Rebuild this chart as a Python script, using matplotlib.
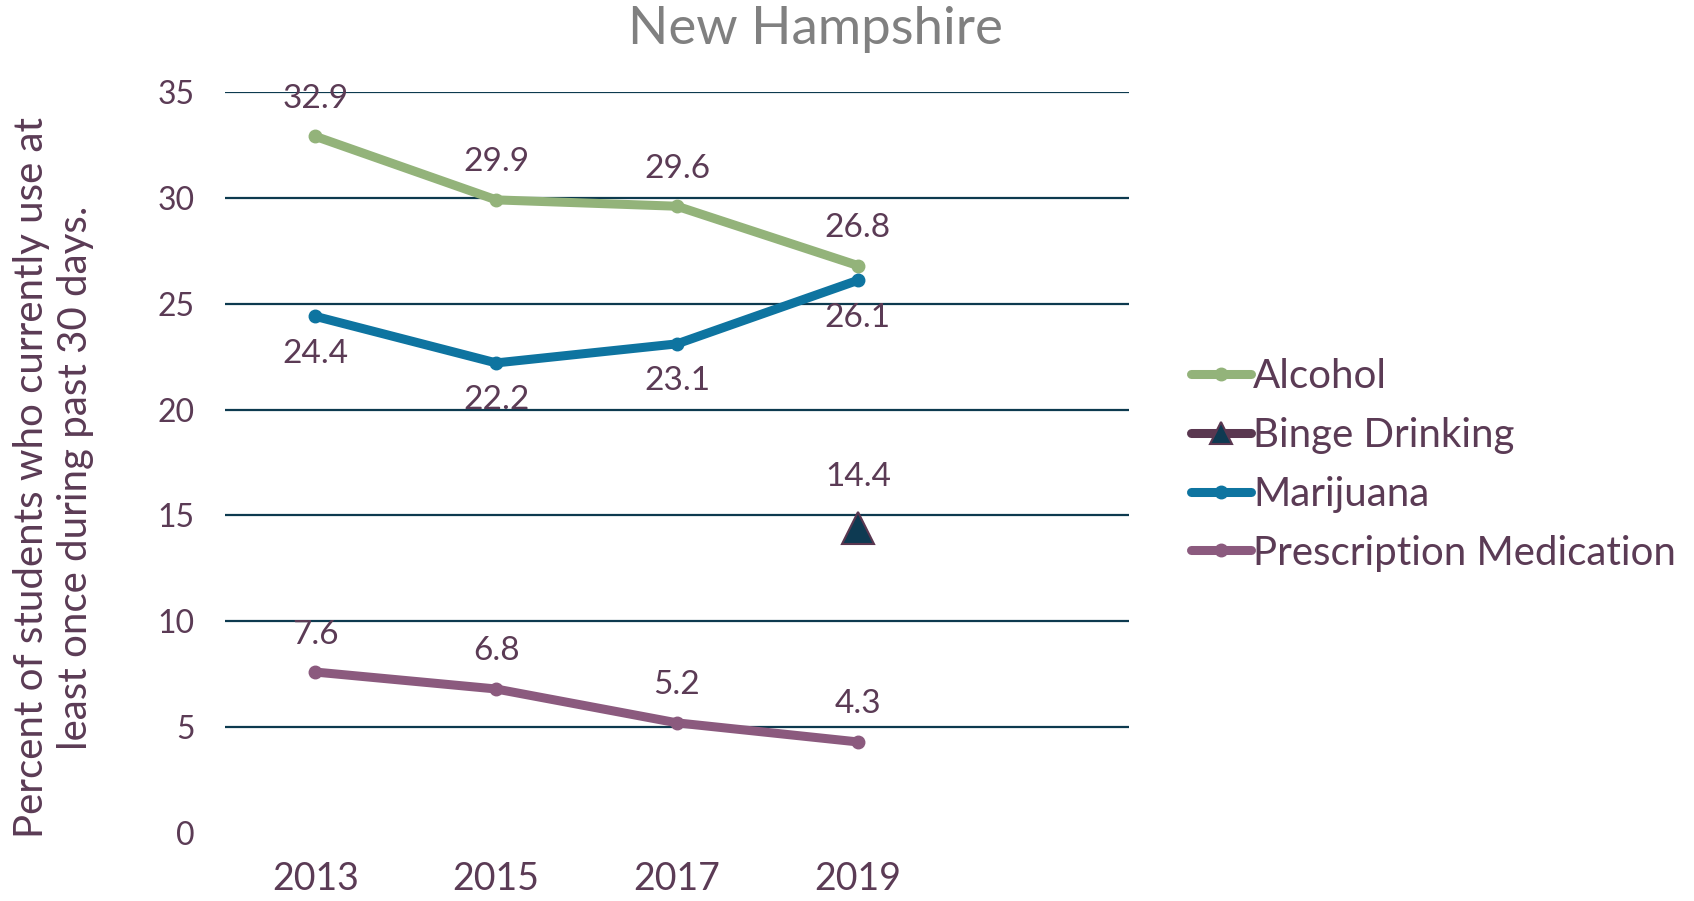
import numpy as np
import matplotlib
matplotlib.use('Agg')
import matplotlib.pyplot as plt

# Data -------------------------------------------------------
years = ['2013', '2015', '2017', '2019']
alcohol = [32.9, 29.9, 29.6, 26.8]
binge = [np.nan, np.nan, np.nan, 14.4]
marijuana = [24.4, 22.2, 23.1, 26.1]
prescription = [7.6, 6.8, 5.2, 4.3]
yticks = [0, 5, 10, 15, 20, 25, 30, 35]

txt = '#5B3B55'
grid = '#0D3A4F'
plt.rcParams['font.family'] = ['Lato', 'DejaVu Sans']

fig = plt.figure(figsize=(16.94, 9.01), dpi=100)
ax = fig.add_axes([0.1328, 0.0755, 0.5337, 0.8225])

x = np.arange(len(years))

# series: (name, values, color, marker, label side)
series = [
    ('Alcohol', alcohol, '#93B37A', 'o', 'above'),
    ('Binge Drinking', binge, '#5A3750', '^', 'above'),
    ('Marijuana', marijuana, '#0E74A0', 'o', 'below'),
    ('Prescription Medication', prescription, '#8B5A7E', 'o', 'above'),
]

for name, vals, col, mk, side in series:
    if mk == '^':
        ax.plot(x, vals, color=col, lw=6.5, marker='^', markersize=23,
                markerfacecolor='#0E3A52', markeredgecolor=col, markeredgewidth=1.5,
                label=name, zorder=3, solid_capstyle='round')
        off = 37
    else:
        ax.plot(x, vals, color=col, lw=6.5, marker='o', markersize=9,
                label=name, zorder=3, solid_capstyle='round')
        off = 27
    for xi, v in zip(x, vals):
        if np.isnan(v):
            continue
        dy = off if side == 'above' else -off
        ax.annotate('%.1f' % v, (xi, v), xytext=(0, dy), textcoords='offset points',
                    ha='center', va='center', fontsize=24, color=txt, zorder=4)

for t in yticks[1:]:
    ax.axhline(t, color=grid, lw=1.6, zorder=1)

ax.set_xlim(-0.5, 4.5)
ax.set_ylim(0, 35)
ax.set_xticks(x)
ax.set_xticklabels(years)
ax.set_yticks(yticks)
ax.tick_params(axis='x', length=0, pad=20, labelsize=27, labelcolor=txt)
ax.tick_params(axis='y', length=0, pad=22, labelsize=23, labelcolor=txt)
for s in ax.spines.values():
    s.set_visible(False)

fig.text(0.4815, 0.967, 'New Hampshire', ha='center', va='center',
         fontsize=38, color='#808080')
fig.text(0.0316, 0.47, 'Percent of students who currently use at\nleast once during past 30 days.',
         rotation=90, ha='center', va='center', multialignment='center',
         fontsize=29, color=txt, linespacing=1.22)

leg = fig.legend(loc='center left', bbox_to_anchor=(0.703, 0.484), frameon=False,
                 fontsize=29, handlelength=1.5, handletextpad=0.05, labelspacing=0.54,
                 borderpad=0, borderaxespad=0)
for t in leg.get_texts():
    t.set_color(txt)
for h in leg.legend_handles:
    if h.get_marker() == '^':
        h.set_markersize(16)

fig.savefig('out.png', dpi=100)
